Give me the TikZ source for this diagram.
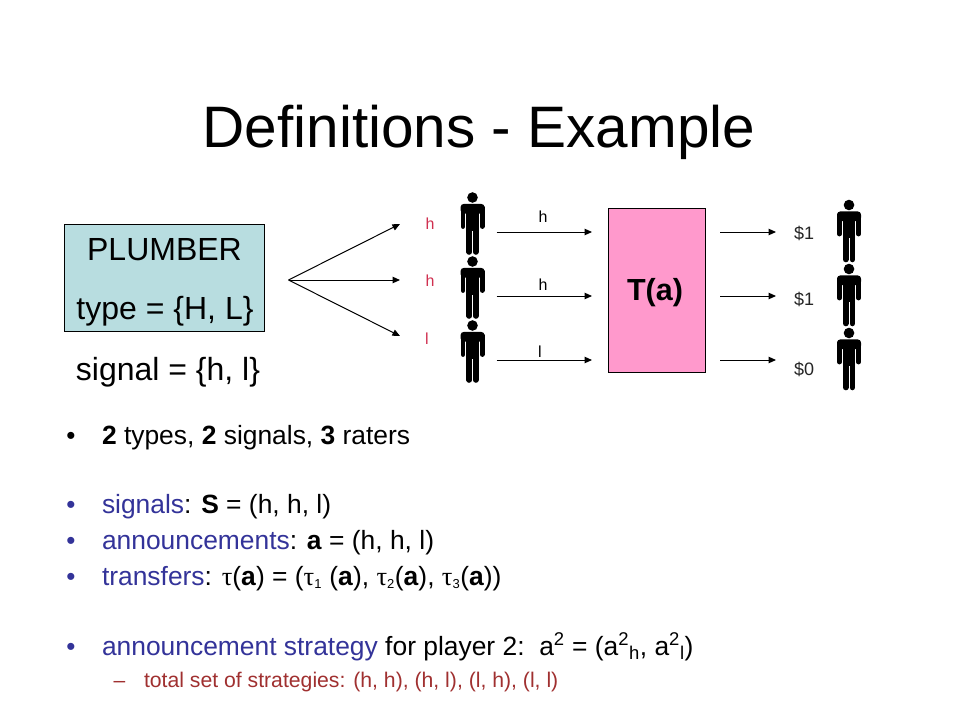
\documentclass[tikz,border=0pt]{standalone}
\usepackage{fontspec}
\setmainfont{Liberation Sans}
\newfontfamily\tauf{Liberation Serif}
\usetikzlibrary{arrows.meta}
\definecolor{blu}{HTML}{333399}
\definecolor{redd}{HTML}{A03030}
\definecolor{sigred}{HTML}{D03050}
\definecolor{pinkb}{HTML}{FF99CC}
\definecolor{tealb}{HTML}{B8DDE0}
\newcommand{\tauu}{{\tauf τ}}
\newcommand{\fs}[1]{\fontsize{#1}{#1}\selectfont}
\tikzset{
  x=1pt,y=-1pt,
  arr/.style={draw=black,line width=1pt,-{Triangle[length=7.5pt,width=6.5pt]}},
  txt/.style={anchor=base west,inner sep=0pt,outer sep=0pt,font=\fs{26.4}},
  small/.style={anchor=base,inner sep=0pt,font=\fs{16},text=#1},
  small/.default=black,
  money/.style={anchor=base,inner sep=0pt,font=\fs{18},text=black!85},
  bul/.style={anchor=base,inner sep=0pt,font=\fs{26},text=blu},
  person/.pic={
    \fill[black] (0,0) circle (5.3);
    \fill[black,rounded corners=3.5pt] (-12,6.3) rectangle (12,16);
    \fill[black] (-6.2,8) rectangle (6.2,33);
    \draw[black,line width=4.8pt,line cap=round] (-9.6,10) -- (-9.6,29);
    \draw[black,line width=4.8pt,line cap=round] (9.6,10) -- (9.6,29);
    \draw[black,line width=5.6pt,line cap=round] (-3.3,30) -- (-3.3,54.5);
    \draw[black,line width=5.6pt,line cap=round] (3.3,30) -- (3.3,54.5);
  }
}
\begin{document}
\begin{tikzpicture}
\useasboundingbox (0,0) rectangle (960,720);
\fill[white] (0,0) rectangle (960,720);
\node[anchor=base,inner sep=0pt,font=\fs{58.5}] (title) at (479,147) {Definitions - Example};
% plumber
\node[draw=black,line width=1pt,fill=tealb,minimum width=200pt,minimum height=107pt,inner sep=0pt,anchor=north west] (plumber) at (64,224) {};
\node[anchor=base,inner sep=0pt,font=\fs{32}] (pl1) at (164.5,260) {PLUMBER};
\node[anchor=base,inner sep=0pt,font=\fs{32}] (pl2) at (165,319) {type = \{H, L\}};
\node[anchor=base,inner sep=0pt,font=\fs{32}] (pl3) at (168,380) {signal = \{h, l\}};
% fan
\coordinate (fan) at (288.5,280);
\coordinate (f1) at (400,224);
\coordinate (f2) at (400,280);
\coordinate (f3) at (400,336);
\draw[arr] (fan) -- (f1);
\draw[arr] (fan) -- (f2);
\draw[arr] (fan) -- (f3);
% red signals
\node[small=sigred] (s1) at (430,229) {h};
\node[small=sigred] (s2) at (430,286) {h};
\node[small=sigred] (s3) at (427,344) {l};
% people
\pic at (472.5,197.5) {person};
\pic at (472.5,261.5) {person};
\pic at (472.5,325.5) {person};
\pic at (849,205) {person};
\pic at (849,269) {person};
\pic at (849,333) {person};
% T box
\node[draw=black,line width=1pt,fill=pinkb,minimum width=97pt,minimum height=164pt,inner sep=0pt,anchor=north west] (T) at (608,208) {};
\node[anchor=base,inner sep=0pt,font=\fs{30.5}\bfseries] (Tl) at (655,300) {T(a)};
% in arrows
\foreach \n/\y in {a/232,b/296,c/360}{
  \coordinate (in\n) at (496.5,\y);
  \coordinate (ie\n) at (592,\y);
  \coordinate (tr\n) at (720,\y);
  \coordinate (te\n) at (776,\y);
  \draw[arr] (in\n) -- (ie\n);
  \draw[arr] (tr\n) -- (te\n);
}
\node[small] (h1) at (543,222) {h};
\node[small] (h2) at (543,290) {h};
\node[small] (h3) at (540,357) {l};
\node[money] (d1) at (804,239) {\$1};
\node[money] (d2) at (804,305.5) {\$1};
\node[money] (d3) at (804,375) {\$0};
% bullets
\node[bul,text=black] (b1) at (71,444) {•};
\node[txt] (l1) at (102,444) {\textbf{2} types, \textbf{2} signals, \textbf{3} raters};
\node[bul] (b2) at (71,513) {•};
\node[txt] (l2) at (102,513) {\textcolor{blu}{signals}: \textbf{S} = (h, h, l)};
\node[bul] (b3) at (71,549) {•};
\node[txt] (l3) at (102,549) {\textcolor{blu}{announcements}: \textbf{a} = (h, h, l)};
\node[bul] (b4) at (71,585) {•};
\node[txt] (l4) at (102,585) {\textcolor{blu}{transfers}: \tauu(\textbf{a}) = (\tauu\textsubscript{\fs{13}1} (\textbf{a}), \tauu\textsubscript{\fs{13}2}(\textbf{a}), \tauu\textsubscript{\fs{13}3}(\textbf{a}))};
\node[bul] (b5) at (71,655) {•};
\node[txt] (l5) at (102,655) {\textcolor{blu}{announcement strategy} for player 2:\ \ a\textsuperscript{2} = (a\textsuperscript{2}\textsubscript{h}, a\textsuperscript{2}\textsubscript{l})};
\node[anchor=base,inner sep=0pt,font=\fs{21},text=redd] (b6) at (119.5,687) {–};
\node[txt,font=\fs{21.2},text=redd] (l6) at (144,687) {total set of strategies: (h, h), (h, l), (l, h), (l, l)};
\end{tikzpicture}
\end{document}
